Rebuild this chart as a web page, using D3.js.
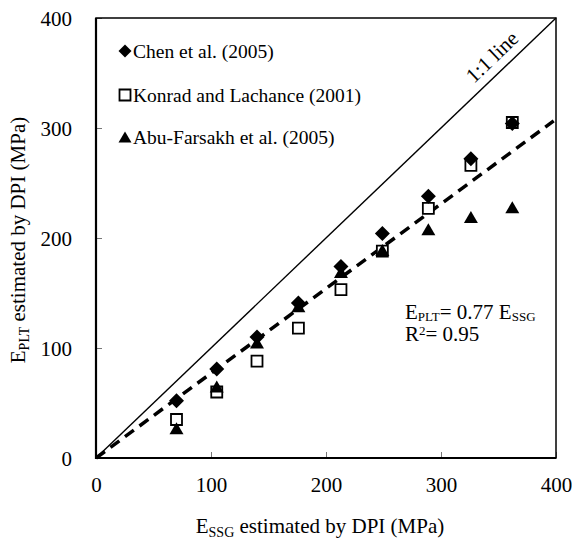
<!DOCTYPE html>
<html>
<head>
<meta charset="utf-8">
<script src="https://cdn.jsdelivr.net/npm/d3@7"></script>
<style>
  body { margin: 0; background: #fff; }
</style>
</head>
<body>
<div id="chart"></div>
<script>
// E_SSG (x) values shared by the three data sets
var essg = [70, 105, 140, 176, 213, 249, 289, 326, 362];
var chen = [52, 81, 110, 141, 174, 204, 238, 272, 304];
var konrad = [35, 60, 88, 118, 153, 188, 227, 266, 305];
var abuFarsakh = [27, 65, 105, 138, 169, 189, 208, 219, 228];
var tickValues = [0, 100, 200, 300, 400];
var fitSlope = 0.77;

var serif = '"Liberation Serif", "Times New Roman", Times, serif';

var width = 460;
var height = 440;
var margins = {left: 96, right: 16, top: 18, bottom: 81};

var svg = d3.select('#chart').append('svg')
            .attr('width', width + margins.left + margins.right)
            .attr('height', height + margins.top + margins.bottom)
            .style('font-family', serif);

var g = svg.append('g')
           .attr('transform', 'translate(' + margins.left + ',' + margins.top + ')');

var x = d3.scaleLinear().domain([0, 400]).range([0, width]);
var y = d3.scaleLinear().domain([0, 400]).range([height, 0]);

// marker shapes, drawn around (0,0)
function diamondPath(r) {
  return 'M0,' + (-r) + 'L' + r + ',0L0,' + r + 'L' + (-r) + ',0Z';
}
function squarePath(s) {
  var h = s / 2;
  return 'M' + (-h) + ',' + (-h) + 'H' + h + 'V' + h + 'H' + (-h) + 'Z';
}
function trianglePath(w, hgt) {
  return 'M0,' + (-hgt / 2) + 'L' + (w / 2) + ',' + (hgt / 2) + 'L' + (-w / 2) + ',' + (hgt / 2) + 'Z';
}

// axes with inward ticks
var xAxis = d3.axisBottom(x).tickValues(tickValues).tickSizeInner(-6).tickSizeOuter(0);
var yAxis = d3.axisLeft(y).tickValues(tickValues).tickSizeInner(-6).tickSizeOuter(0).tickPadding(24);

var xg = g.append('g').attr('transform', 'translate(0,' + height + ')').call(xAxis);
var yg = g.append('g').call(yAxis);

[xg, yg].forEach(function(a) {
  a.select('.domain').remove();
  a.selectAll('.tick line').attr('stroke', '#777').attr('stroke-width', 1);
  a.selectAll('.tick text')
   .style('font-family', serif)
   .style('font-size', '21px');
});
xg.selectAll('.tick text').attr('y', 27).attr('dy', '0.35em');
yg.selectAll('.tick text').attr('dy', '0.35em');

// frame
g.append('rect')
 .attr('x', 0).attr('y', 0)
 .attr('width', width).attr('height', height)
 .attr('fill', 'none')
 .attr('stroke', '#000')
 .attr('stroke-width', 1.5);
g.append('path')
 .attr('d', 'M0,0V' + height + 'H' + width)
 .attr('fill', 'none')
 .attr('stroke', '#000')
 .attr('stroke-width', 2.2);

// 1:1 line
g.append('line')
 .attr('x1', x(0)).attr('y1', y(0))
 .attr('x2', x(400)).attr('y2', y(400))
 .attr('stroke', '#000')
 .attr('stroke-width', 1.4);

var angle = Math.atan2(y(0) - y(400), x(400) - x(0)) * 180 / Math.PI;
g.append('text')
 .attr('transform', 'translate(' + x(354) + ',' + y(354) + ') rotate(' + (-angle) + ')')
 .attr('y', -9)
 .attr('text-anchor', 'middle')
 .style('font-family', serif)
 .style('font-size', '21px')
 .text('1:1 line');

// fitted line
g.append('line')
 .attr('x1', x(0)).attr('y1', y(0))
 .attr('x2', x(398)).attr('y2', y(398 * fitSlope))
 .attr('stroke', '#000')
 .attr('stroke-width', 3.5)
 .attr('stroke-dasharray', '11,7');

// data points: squares under diamonds, triangles on top
var konradPts = essg.map(function(v, i) { return [v, konrad[i]]; });
var chenPts = essg.map(function(v, i) { return [v, chen[i]]; });
var abuPts = essg.map(function(v, i) { return [v, abuFarsakh[i]]; });

g.append('g').selectAll('path').data(konradPts).enter()
 .append('path')
 .attr('d', squarePath(11))
 .attr('transform', function(d) { return 'translate(' + x(d[0]) + ',' + y(d[1]) + ')'; })
 .attr('fill', '#fff')
 .attr('stroke', '#000')
 .attr('stroke-width', 1.8);

g.append('g').selectAll('path').data(chenPts).enter()
 .append('path')
 .attr('d', diamondPath(7.5))
 .attr('transform', function(d) { return 'translate(' + x(d[0]) + ',' + y(d[1]) + ')'; })
 .attr('fill', '#000');

g.append('g').selectAll('path').data(abuPts).enter()
 .append('path')
 .attr('d', trianglePath(14, 12))
 .attr('transform', function(d) { return 'translate(' + x(d[0]) + ',' + y(d[1]) + ')'; })
 .attr('fill', '#000');

// legend
var legend = [
  {label: 'Chen et al. (2005)', shape: 'diamond', y: 33},
  {label: 'Konrad and Lachance (2001)', shape: 'square', y: 77},
  {label: 'Abu-Farsakh et al. (2005)', shape: 'triangle', y: 119}
];
var lg = g.append('g');
legend.forEach(function(item) {
  var m = lg.append('path')
            .attr('transform', 'translate(29,' + item.y + ')');
  if (item.shape === 'diamond') {
    m.attr('d', diamondPath(6.5)).attr('fill', '#000');
  } else if (item.shape === 'square') {
    m.attr('d', squarePath(11)).attr('fill', '#fff').attr('stroke', '#000').attr('stroke-width', 1.8);
  } else {
    m.attr('d', trianglePath(13, 11)).attr('fill', '#000');
  }
  lg.append('text')
    .attr('x', 37)
    .attr('y', item.y)
    .attr('dy', '0.35em')
    .style('font-family', serif)
    .style('font-size', '19.5px')
    .text(item.label);
});

// equation
var eq = g.append('text')
          .attr('x', 309)
          .attr('y', 301)
          .style('font-family', serif)
          .style('font-size', '21px');
eq.append('tspan').text('E');
eq.append('tspan').attr('dy', 2).style('font-size', '13px').text('PLT');
eq.append('tspan').attr('dy', -2).text('= 0.77 E');
eq.append('tspan').attr('dy', 2).style('font-size', '13px').text('SSG');

var r2 = g.append('text')
          .attr('x', 309)
          .attr('y', 323)
          .style('font-family', serif)
          .style('font-size', '21px');
r2.append('tspan').text('R');
r2.append('tspan').attr('dy', -6).style('font-size', '13px').text('2');
r2.append('tspan').attr('dy', 6).text('= 0.95');

// axis titles
var xt = svg.append('text')
            .attr('x', margins.left + width / 2 - 6)
            .attr('y', 533)
            .attr('text-anchor', 'middle')
            .style('font-family', serif)
            .style('font-size', '21px');
xt.append('tspan').text('E');
xt.append('tspan').attr('dy', 4).style('font-size', '14px').text('SSG');
xt.append('tspan').attr('dy', -4).text(' estimated by DPI (MPa)');

var yt = svg.append('text')
            .attr('transform', 'translate(25,' + (margins.top + height / 2 + 2) + ') rotate(-90)')
            .attr('text-anchor', 'middle')
            .style('font-family', serif)
            .style('font-size', '21px');
yt.append('tspan').text('E');
yt.append('tspan').attr('dy', 4).style('font-size', '14px').text('PLT');
yt.append('tspan').attr('dy', -4).text(' estimated by DPI (MPa)');
</script>
</body>
</html>
